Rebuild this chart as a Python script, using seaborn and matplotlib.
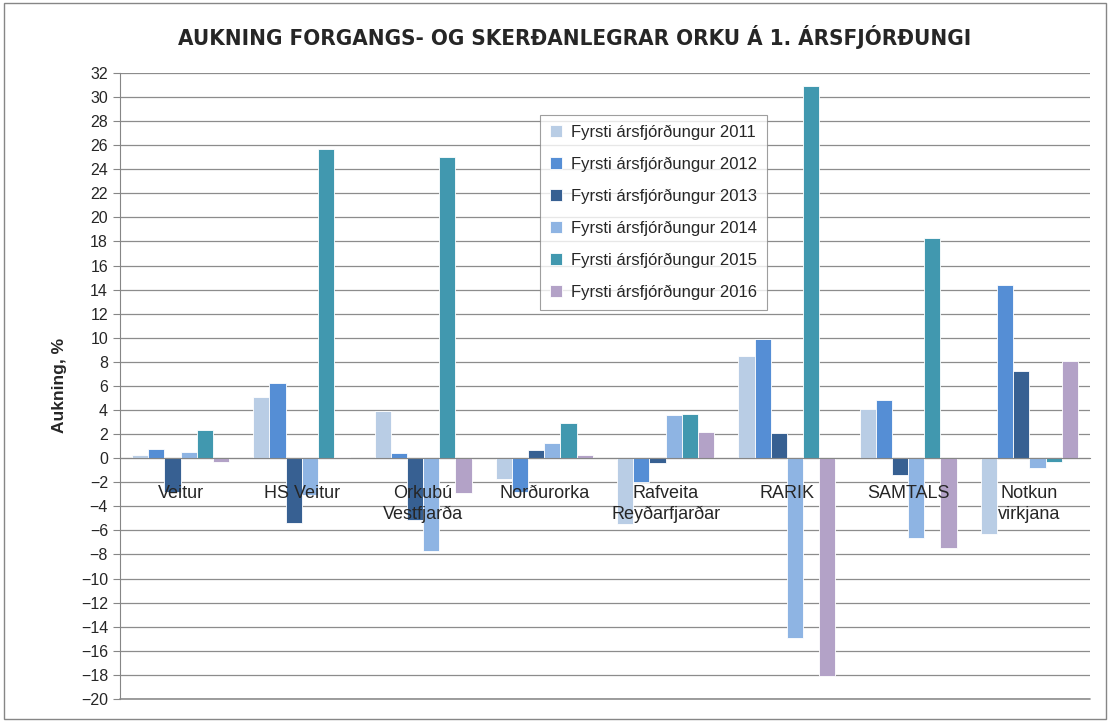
import matplotlib
matplotlib.use("Agg")
import matplotlib.pyplot as plt
from matplotlib.patches import Rectangle
import seaborn as sns
import pandas as pd
import numpy as np

# Gögn lesin af myndinni
# ==============================================================================
flokkar = ["Veitur", "HS Veitur", "Orkubú\nVestfjarða", "Norðurorka",
           "Rafveita\nReyðarfjarðar", "RARIK", "SAMTALS", "Notkun\nvirkjana"]
ar = ["Fyrsti ársfjórðungur 2011", "Fyrsti ársfjórðungur 2012",
      "Fyrsti ársfjórðungur 2013", "Fyrsti ársfjórðungur 2014",
      "Fyrsti ársfjórðungur 2015", "Fyrsti ársfjórðungur 2016"]
q1_2011 = [0.3, 5.1, 3.9, -1.7, -5.5, 8.5, 4.05, -6.3]
q1_2012 = [0.75, 6.25, 0.4, -2.8, -2.0, 9.9, 4.85, 14.4]
q1_2013 = [-2.8, -5.4, -5.1, 0.7, -0.4, 2.1, -1.4, 7.2]
q1_2014 = [0.5, -3.1, -7.75, 1.25, 3.6, -14.9, -6.65, -0.85]
q1_2015 = [2.3, 25.7, 25.0, 2.9, 3.7, 30.9, 18.3, -0.3]
q1_2016 = [-0.3, 0.1, -2.9, 0.3, 2.15, -18.1, -7.45, 8.05]
litir = ["#B9CDE5", "#558ED5", "#376092", "#8EB4E3", "#4198AF", "#B3A2C7"]

raðir = [q1_2011, q1_2012, q1_2013, q1_2014, q1_2015, q1_2016]
df = pd.DataFrame({
    "flokkur": np.tile(flokkar, len(ar)),
    "ar": np.repeat(ar, len(flokkar)),
    "aukning": np.concatenate(raðir),
})

# Gráf
# ==============================================================================
sns.set_style("white")
plt.rcParams["font.family"] = ["Liberation Sans", "DejaVu Sans"]

fig = plt.figure(figsize=(11.1, 7.22), dpi=100)
ax = fig.add_axes([0.108, 0.032, 0.874, 0.867])

sns.barplot(data=df, x="flokkur", y="aukning", hue="ar", palette=litir,
            width=0.8, saturation=1, edgecolor="white", linewidth=0.6,
            ax=ax, legend=True)

ax.set_ylim(-20, 32)
ax.set_xlim(-0.5, len(flokkar) - 0.5)
ax.set_yticks(np.arange(-20, 33, 2))
ax.tick_params(axis="y", labelsize=11.5, length=5, color="#868686", direction="out", left=True)
ax.yaxis.grid(True, color="#8C8C8C", linewidth=0.9)
ax.set_axisbelow(True)
ax.axhline(-20, color="#8C8C8C", linewidth=1.2, clip_on=False, zorder=0.5)

# núlllína og flokkamerki ofan á súlunum (eins og í Excel)
ax.spines["bottom"].set_position(("data", 0))
ax.spines["bottom"].set_color("#868686")
ax.spines["left"].set_color("#868686")
ax.spines["top"].set_visible(False)
ax.spines["right"].set_visible(False)
ax.set_xticks(range(len(flokkar)))
ax.set_xticklabels([])
ax.tick_params(axis="x", length=0)
ax.set_xticks(np.arange(0.5, len(flokkar) - 0.5, 1), minor=True)
ax.tick_params(axis="x", which="minor", length=5, color="#868686", direction="out")
for i, nafn in enumerate(flokkar):
    ax.annotate(nafn, xy=(i, 0), xytext=(0, -19), textcoords="offset points",
                ha="center", va="top", fontsize=13, linespacing=1.35, zorder=10)

ax.set_xlabel("")
ax.set_ylabel("Aukning, %", fontsize=12.5, fontweight="bold", labelpad=10)
fig.suptitle("AUKNING FORGANGS- OG SKERÐANLEGRAR ORKU Á 1. ÁRSFJÓRÐUNGI",
             x=0.518, y=0.966, fontsize=16, fontweight="bold",
             family="DejaVu Sans", fontstretch="condensed")

leg = ax.legend(loc="upper left", bbox_to_anchor=(0.433, 0.933), fontsize=12,
                frameon=True, fancybox=False, edgecolor="#868686",
                labelspacing=1.0, handlelength=0.75, handleheight=0.75,
                handletextpad=0.5, borderpad=0.6, borderaxespad=0)
leg.get_frame().set_linewidth(0.8)

fig.patches.append(Rectangle((0.004, 0.004), 0.992, 0.992, transform=fig.transFigure,
                             fill=False, edgecolor="#868686", linewidth=1))

fig.savefig("out.png", dpi=100)
